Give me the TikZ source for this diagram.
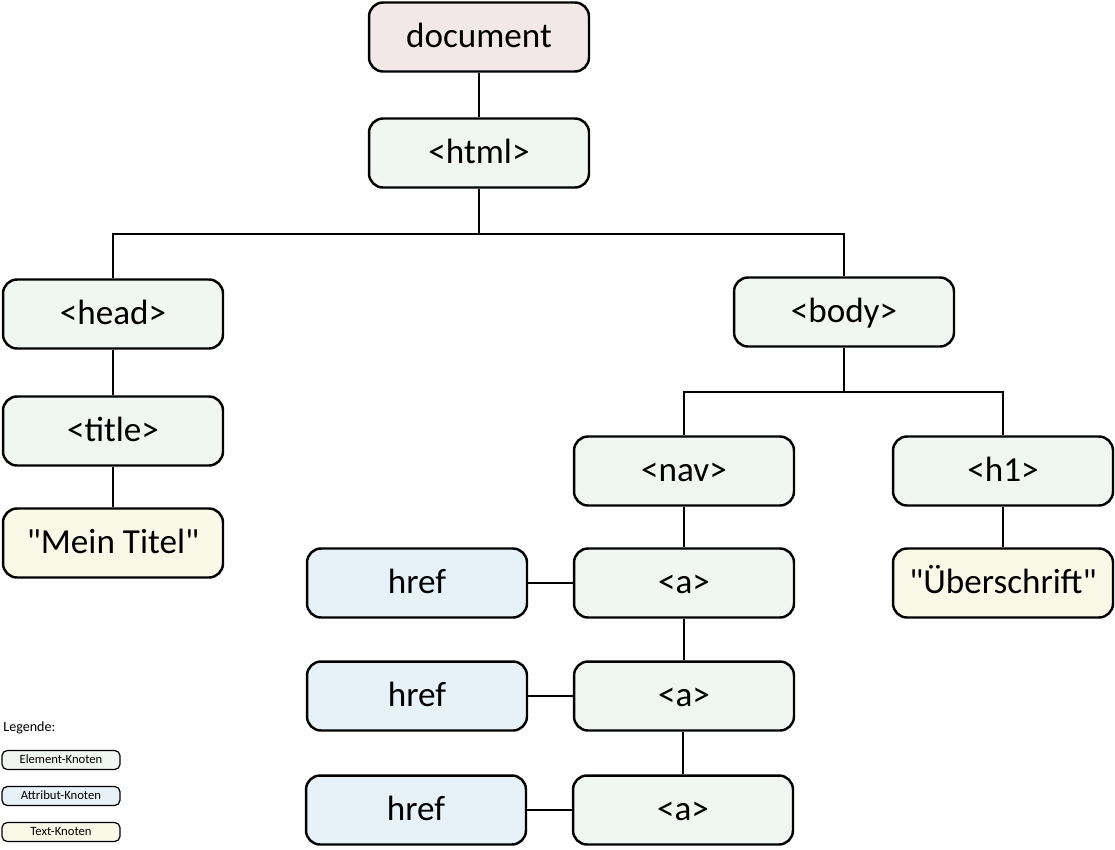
\documentclass[tikz,border=0pt]{standalone}
\usepackage{fontspec}
\setmainfont{Carlito}[Ligatures=TeXOff]
\definecolor{docfill}{HTML}{F3E8E8}
\definecolor{elemfill}{HTML}{F0F7F3}
\definecolor{attrfill}{HTML}{E6F2F8}
\definecolor{textfill}{HTML}{FAF8E6}
\begin{document}
\begin{tikzpicture}[x=0.02cm,y=-0.02cm,
  knoten/.style={draw, line width=1.4pt, rounded corners=8pt, minimum width=4.4cm, minimum height=1.38cm, inner sep=0pt, text height=15pt, text depth=3.5pt, font=\fontsize{20}{24}\selectfont},
  docknoten/.style={knoten, fill=docfill},
  element/.style={knoten, fill=elemfill},
  attribut/.style={knoten, fill=attrfill},
  textknoten/.style={knoten, fill=textfill},
  legende/.style={draw, line width=0.7pt, rounded corners=3pt, minimum width=2.36cm, minimum height=0.38cm, inner sep=0pt, text height=5pt, text depth=1.5pt, font=\fontsize{7.2}{8}\selectfont},
  kante/.style={line width=1.1pt}]
\useasboundingbox (0,0) rectangle (1115,849);

\node[docknoten] (doc) at (479,37) {document};
\node[element] (html) at (479,153) {<html>};
\node[element] (head) at (113,314) {<head>};
\node[element] (title) at (113,431) {<title>};
\node[textknoten] (titeltext) at (113,543) {"Mein Titel"};
\node[element] (body) at (844,312) {<body>};
\node[element] (nav) at (684,471) {<nav>};
\node[element] (h1) at (1003,471) {<h1>};
\node[textknoten] (h1text) at (1003,583) {"Überschrift"};
\node[element] (a1) at (684,583) {<a>};
\node[element] (a2) at (684,696) {<a>};
\node[element] (a3) at (683,810) {<a>};
\node[attribut] (href1) at (417,583) {href};
\node[attribut] (href2) at (417,696) {href};
\node[attribut] (href3) at (416,810) {href};

\coordinate (split1) at (479,234);
\coordinate (split2) at (844,392);

\draw[kante] (doc) -- (html);
\draw[kante] (html) -- (split1);
\draw[kante] (split1) -| (head);
\draw[kante] (split1) -| (body);
\draw[kante] (head) -- (title);
\draw[kante] (title) -- (titeltext);
\draw[kante] (body) -- (split2);
\draw[kante] (split2) -| (nav);
\draw[kante] (split2) -| (h1);
\draw[kante] (h1) -- (h1text);
\draw[kante] (nav) -- (a1);
\draw[kante] (a1) -- (a2);
\draw[kante] (a2.south -| a3) -- (a3);
\draw[kante] (href1) -- (a1);
\draw[kante] (href2) -- (a2);
\draw[kante] (href3) -- (a3);

% Legende
\node[anchor=west, inner sep=0pt, font=\fontsize{8}{9}\selectfont] (legtitel) at (3,728) {Legende:};
\node[legende, fill=elemfill] (legelem) at (61,760) {Element-Knoten};
\node[legende, fill=attrfill] (legattr) at (61,796) {Attribut-Knoten};
\node[legende, fill=textfill] (legtext) at (61,832) {Text-Knoten};
\end{tikzpicture}
\end{document}
